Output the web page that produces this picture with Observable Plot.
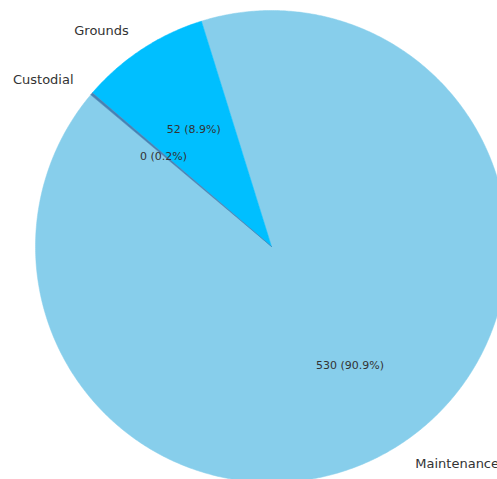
<!DOCTYPE html>
<html>
<head>
<meta charset="utf-8">
<script src="https://cdn.jsdelivr.net/npm/d3@7"></script>
<script src="https://cdn.jsdelivr.net/npm/@observablehq/plot@0.6"></script>
<style>
html,body{margin:0;padding:0;background:#fff;overflow:hidden;}
svg{font-family:"DejaVu Sans",sans-serif;}
</style>
</head>
<body>
<div id="chart"></div>
<script>
const categories = ["Maintenance", "Grounds", "Custodial"];
const values = [530, 52, 1];
const countLabels = ["530", "52", "0"];
const colors = ["#87CEEB", "#00BFFF", "#4682B4"];
const startAngle = 140; // degrees, counter-clockwise from east

const total = d3.sum(values);
const wedges = [];
let a0 = startAngle;
categories.forEach((name, i) => {
  const span = values[i] / total * 360;
  wedges.push({name, a0, a1: a0 + span, mid: a0 + span / 2,
    label: `${countLabels[i]} (${(values[i] / total * 100).toFixed(1)}%)`});
  a0 += span;
});

const rad = d => d * Math.PI / 180;
const polys = [];
wedges.forEach(w => {
  polys.push({name: w.name, x: 0, y: 0});
  const n = Math.max(2, Math.ceil((w.a1 - w.a0) / 0.5));
  for (let k = 0; k <= n; k++) {
    const a = rad(w.a0 + (w.a1 - w.a0) * k / n);
    polys.push({name: w.name, x: Math.cos(a), y: Math.sin(a)});
  }
  polys.push({name: w.name, x: 0, y: 0});
});

const outer = wedges.map(w => ({name: w.name, x: 1.1 * Math.cos(rad(w.mid)), y: 1.1 * Math.sin(rad(w.mid))}));
const inner = wedges.map(w => ({label: w.label, x: 0.6 * Math.cos(rad(w.mid)), y: 0.6 * Math.sin(rad(w.mid))}));

const plot = Plot.plot({
  width: 497,
  height: 479,
  margin: 0,
  x: {domain: [-1, 1], range: [35, 507], axis: null},
  y: {domain: [-1, 1], range: [482, 10], axis: null},
  color: {domain: categories, range: colors},
  style: {fontFamily: "DejaVu Sans, sans-serif", overflow: "visible"},
  marks: [
    Plot.line(polys, {x: "x", y: "y", z: "name", fill: "name", stroke: "name", strokeWidth: 0.5, curve: "linear"}),
    Plot.text(outer.filter(d => d.x >= 0), {x: "x", y: "y", text: "name", textAnchor: "start", fontSize: 13, fill: "#333", dy: 1.5}),
    Plot.text(outer.filter(d => d.x < 0), {x: "x", y: "y", text: "name", textAnchor: "end", fontSize: 13, fill: "#333", dy: 1.5}),
    Plot.text(inner, {x: "x", y: "y", text: "label", fontSize: 11, fill: "#333", dy: 1.5})
  ]
});
document.getElementById("chart").appendChild(plot);
</script>
</body>
</html>
